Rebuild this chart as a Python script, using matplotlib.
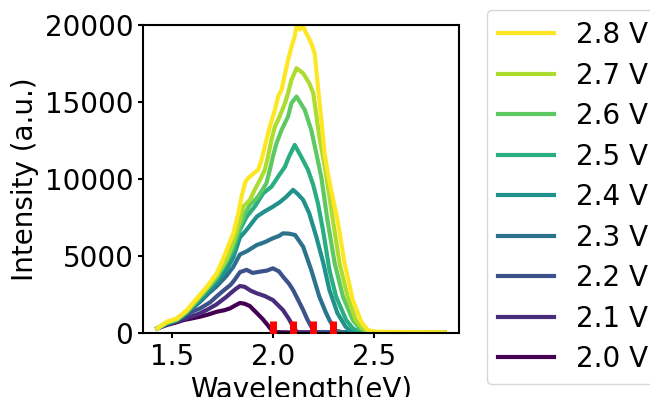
import matplotlib
matplotlib.use("Agg")
import matplotlib.pyplot as plt
import numpy as np

# ---- data ----
labels = ["2.0 V", "2.1 V", "2.2 V", "2.3 V", "2.4 V", "2.5 V", "2.6 V", "2.7 V", "2.8 V"]

e20 = [1.428, 1.475, 1.525, 1.557, 1.60, 1.64, 1.68, 1.722, 1.76, 1.788, 1.815, 1.837, 1.86,
       1.886, 1.92, 1.95, 1.975, 1.99, 2.0, 2.1, 2.3, 2.5, 2.7, 2.85]
i20 = [300, 520, 700, 840, 950, 1060, 1200, 1380, 1480, 1600, 1800, 1950, 1900,
       1750, 1300, 900, 500, 250, 60, 30, 20, 20, 20, 20]

e21 = [1.428, 1.475, 1.525, 1.556, 1.60, 1.64, 1.68, 1.72, 1.77, 1.79, 1.815, 1.837, 1.86,
       1.89, 1.92, 1.96, 2.0, 2.05, 2.08, 2.1, 2.12, 2.3, 2.5, 2.7, 2.85]
i21 = [300, 560, 760, 900, 1080, 1280, 1550, 1850, 2350, 2580, 2850, 3050, 3000,
       2750, 2580, 2400, 2140, 1490, 900, 410, 50, 30, 20, 20, 20]

e22 = [1.428, 1.475, 1.525, 1.57, 1.607, 1.64, 1.69, 1.72, 1.755, 1.79, 1.81, 1.837, 1.87,
       1.90, 1.935, 1.97, 2.0, 2.03, 2.05, 2.08, 2.1, 2.125, 2.15, 2.17, 2.19, 2.21,
       2.3, 2.5, 2.7, 2.85]
i22 = [300, 580, 800, 1150, 1420, 1600, 2000, 2360, 2750, 3120, 3440, 3950, 4100,
       3900, 3980, 4050, 4200, 4000, 3660, 3200, 2790, 2150, 1490, 900, 410, 60,
       30, 20, 20, 20]

e23 = [1.428, 1.475, 1.525, 1.59, 1.64, 1.68, 1.72, 1.77, 1.804, 1.837, 1.87, 1.92, 1.96,
       2.0, 2.03, 2.05, 2.08, 2.11, 2.15, 2.19, 2.23, 2.26, 2.28, 2.31, 2.35, 2.5, 2.7, 2.85]
i23 = [300, 600, 830, 1500, 2030, 2550, 3010, 3700, 4300, 5100, 5300, 5710, 5900,
       6150, 6300, 6470, 6450, 6360, 5600, 4090, 2360, 1400, 840, 150, 40, 20, 20, 20]

e24 = [1.428, 1.475, 1.525, 1.59, 1.64, 1.68, 1.72, 1.77, 1.804, 1.837, 1.87, 1.92, 1.96,
       2.0, 2.035, 2.067, 2.1, 2.125, 2.15, 2.18, 2.215, 2.25, 2.28, 2.32, 2.36, 2.39,
       2.5, 2.7, 2.85]
i24 = [300, 620, 850, 1580, 2120, 2700, 3250, 4100, 4900, 6200, 6700, 7550, 7900,
       8200, 8500, 8850, 9290, 9000, 8640, 7770, 6250, 4530, 2790, 1280, 410, 60,
       30, 20, 20]

e25 = [1.428, 1.475, 1.525, 1.574, 1.623, 1.673, 1.722, 1.771, 1.804, 1.837, 1.87, 1.91,
       1.952, 1.993, 2.026, 2.06, 2.08, 2.108, 2.14, 2.174, 2.2, 2.223, 2.248, 2.28,
       2.313, 2.363, 2.396, 2.43, 2.6, 2.85]
i25 = [300, 640, 860, 1350, 2050, 2800, 3500, 4550, 5300, 6700, 7550, 8200,
       9070, 9500, 10150, 10800, 11450, 12210, 11450, 10590, 9600, 8420, 6690, 4090,
       2360, 840, 300, 60, 40, 30]

e26 = [1.428, 1.475, 1.525, 1.574, 1.623, 1.673, 1.722, 1.771, 1.804, 1.837, 1.86, 1.886,
       1.927, 1.968, 1.985, 2.0, 2.018, 2.043, 2.075, 2.092, 2.117, 2.158, 2.19, 2.215,
       2.24, 2.27, 2.306, 2.347, 2.396, 2.43, 2.47, 2.6, 2.85]
i26 = [300, 660, 880, 1380, 2100, 2850, 3600, 4700, 5600, 6900, 7700, 8310,
       8850, 9720, 10590, 11450, 12320, 13180, 14050, 14920, 15350, 14480, 13180, 11670,
       10100, 7340, 4530, 2360, 840, 300, 60, 40, 30]

e27 = [1.428, 1.475, 1.525, 1.574, 1.623, 1.673, 1.722, 1.771, 1.804, 1.837, 1.853, 1.886,
       1.91, 1.936, 1.96, 1.976, 1.993, 2.01, 2.026, 2.06, 2.075, 2.092, 2.117, 2.15,
       2.18, 2.2, 2.23, 2.26, 2.297, 2.33, 2.37, 2.41, 2.445, 2.48, 2.6, 2.85]
i27 = [300, 700, 900, 1420, 2150, 2900, 3750, 4800, 5900, 7300, 8200, 8640,
       9290, 9940, 10590, 11450, 12530, 13400, 13830, 14920, 15570, 16430, 17190, 16860,
       16220, 15570, 12750, 10590, 7340, 4530, 2360, 840, 300, 80, 40, 30]

e28 = [1.428, 1.475, 1.525, 1.574, 1.623, 1.673, 1.722, 1.755, 1.771, 1.804, 1.829, 1.845,
       1.862, 1.87, 1.895, 1.927, 1.944, 1.96, 1.985, 2.01, 2.026, 2.043, 2.075, 2.095,
       2.108, 2.115, 2.125, 2.135, 2.145, 2.16, 2.174, 2.19, 2.207, 2.223, 2.24, 2.256,
       2.273, 2.29, 2.32, 2.355, 2.396, 2.437, 2.47, 2.5, 2.7, 2.85]
i28 = [300, 730, 950, 1490, 2250, 3010, 3880, 4850, 5390, 6470, 7770, 8850,
       9720, 9940, 10260, 10590, 11240, 12100, 13400, 14480, 15350, 15780, 17730, 18700,
       19240, 19800, 20200, 19700, 20100, 19600, 19240, 18810, 18160, 16000, 13830, 11670,
       10300, 9200, 7340, 4530, 2140, 730, 200, 80, 60, 40]

energies = [e20, e21, e22, e23, e24, e25, e26, e27, e28]
intensities = [i20, i21, i22, i23, i24, i25, i26, i27, i28]

peak_positions = [2.0, 2.1, 2.2, 2.3]
peak_levels = [0, 0, 0, 0]

# ---- plot ----
plt.rcParams["font.size"] = 20
fig = plt.figure(figsize=(6.5, 3.97), dpi=100)
ax = fig.add_axes([0.22, 0.1612, 0.486, 0.776])

colors = plt.cm.viridis(np.linspace(0, 1, len(labels)))
handles = []
for e, i, c, lab in zip(energies, intensities, colors, labels):
    h, = ax.plot(e, i, color=c, lw=3, label=lab)
    handles.append(h)

ax.plot(peak_positions, peak_levels, linestyle="none", marker="|",
        ms=18, mew=5, color="red", zorder=3)

ax.set_ylim(0, 20000)
ax.set_xticks([1.5, 2.0, 2.5])
ax.set_yticks([0, 5000, 10000, 15000, 20000])
ax.set_xlabel("Wavelength(eV)")
ax.set_ylabel("Intensity (a.u.)")
for s in ax.spines.values():
    s.set_linewidth(1.5)
ax.tick_params(width=1.5)

ax.legend(handles[::-1], labels[::-1], loc="upper left",
          bbox_to_anchor=(1.0886, 1.0487), borderaxespad=0, labelspacing=0.45)

fig.savefig("out.png", dpi=100)
